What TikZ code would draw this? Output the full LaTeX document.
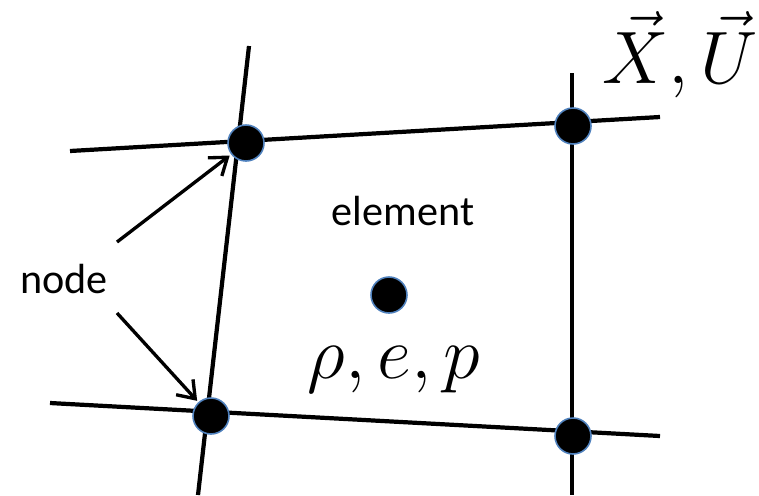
\documentclass[tikz,border=0pt]{standalone}
\usepackage{fontspec}
\setmainfont{Carlito}
\usetikzlibrary{arrows.meta}
\definecolor{ink}{HTML}{000000}
\definecolor{rim}{HTML}{4F81BD}
\tikzset{
  meshline/.style={draw=ink, line width=2.4pt, line cap=butt},
  dotnode/.style={circle, fill=ink, draw=rim, line width=0.9pt, minimum size=0.72cm, inner sep=0pt},
  pointer/.style={-{Straight Barb[length=9pt,width=13pt,line width=1.9pt]}, draw=ink, line width=1.9pt, shorten >=1pt},
  wordlabel/.style={anchor=base, text=ink, font=\fontsize{24}{28}\selectfont},
  mathlabel/.style={anchor=base, text=ink, font=\fontsize{24.88}{28}\selectfont, scale=1.7}
}

\begin{document}
\begin{tikzpicture}[x=0.02cm,y=-0.02cm]
  \useasboundingbox (0,0) rectangle (759,495);
  \fill[white] (0,0) rectangle (759,495);

  % Ends of the four mesh lines.
  \coordinate (topW) at (70,151);
  \coordinate (topE) at (660,117);
  \coordinate (botW) at (50,403);
  \coordinate (botE) at (660,436);
  \coordinate (leftN) at (249,46);
  \coordinate (leftS) at (198,495);
  \coordinate (rightN) at (572,73);
  \coordinate (rightS) at (572,495);

  \draw[meshline] (topW) -- (topE);
  \draw[meshline] (botW) -- (botE);
  \draw[meshline] (leftN) -- (leftS);
  \draw[meshline] (rightN) -- (rightS);

  % Nodes at the corners and the element centre.
  \node[dotnode] (nw) at (246,143) {};
  \node[dotnode] (ne) at (573,126) {};
  \node[dotnode] (sw) at (211,416) {};
  \node[dotnode] (se) at (573,436) {};
  \node[dotnode] (cell) at (389,295) {};

  % Labels.
  \node[wordlabel] (elemlabel) at (403,225) {element};
  \node[mathlabel, transform shape] (statelabel) at (394,378) {$\rho, e, p$};
  \node[mathlabel, transform shape] (vellabel) at (680,83) {$\vec{X},\vec{U}$};
  \node[wordlabel] (nodelabel) at (64,293) {node};

  % Pointers from the label to two nodes.
  \coordinate (tailA) at (117,242);
  \coordinate (tailB) at (117,313);
  \draw[pointer] (tailA) -- (nw);
  \draw[pointer] (tailB) -- (sw);
\end{tikzpicture}
\end{document}
